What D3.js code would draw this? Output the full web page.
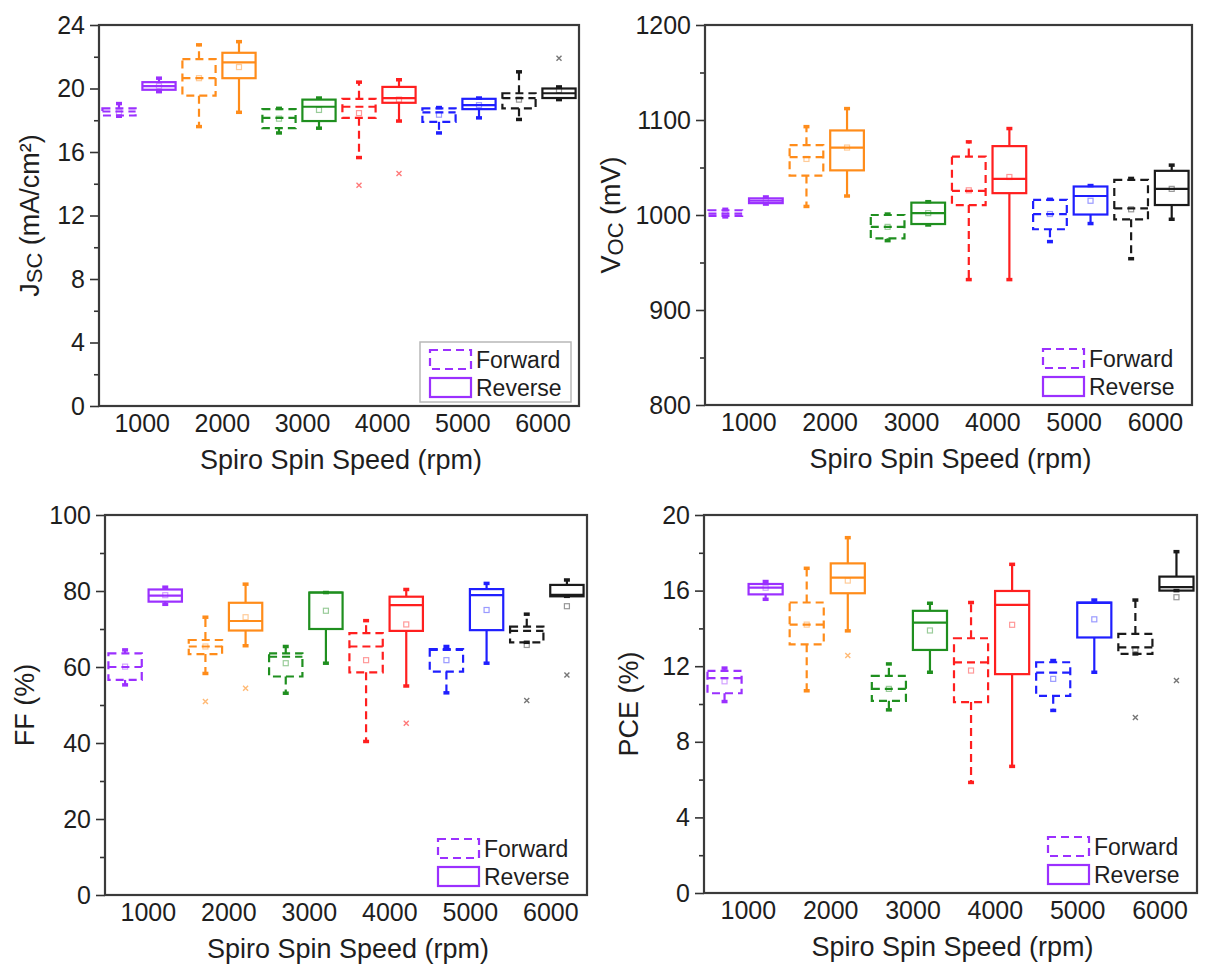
<!DOCTYPE html>
<html>
<head>
<meta charset="utf-8">
<script src="https://cdn.jsdelivr.net/npm/d3@7"></script>
<style>
  html, body { margin: 0; padding: 0; background: #fff; }
  svg { display: block; }
  text { font-family: Arial, "Liberation Sans", sans-serif; fill: #1e1e1e; }
</style>
</head>
<body>
<svg id="chart" width="1206" height="964"></svg>
<script>
// Spin-speed categories and scan directions
const categories = ["1000", "2000", "3000", "4000", "5000", "6000"];
const directions = ["Forward", "Reverse"];
const colors = ["#9b30ff", "#ff8c1a", "#1f8f1f", "#ff1f1f", "#1f1fff", "#1a1a1a"];

// Each row: [min, Q1, median, Q3, max, mean]
const jscForward = [
  [18.25, 18.30, 18.55, 18.75, 19.05, 18.50],
  [17.60, 19.55, 20.65, 21.85, 22.75, 20.65],
  [17.20, 17.50, 18.15, 18.70, 18.75, 18.10],
  [15.65, 18.15, 18.85, 19.35, 20.40, 18.45],
  [17.20, 17.90, 18.50, 18.75, 18.80, 18.35],
  [18.05, 18.75, 19.40, 19.70, 21.05, 19.30]
];
const jscReverse = [
  [19.80, 19.92, 20.15, 20.40, 20.65, 20.15],
  [18.50, 20.65, 21.65, 22.25, 22.95, 21.35],
  [17.50, 17.95, 18.85, 19.30, 19.40, 18.65],
  [17.95, 19.10, 19.40, 20.10, 20.55, 19.30],
  [18.15, 18.70, 18.95, 19.35, 19.40, 18.95],
  [19.30, 19.40, 19.70, 20.00, 20.10, 19.90]
];
const jscForwardOutliers = [[3, 13.9]];
const jscReverseOutliers = [[3, 14.65], [5, 21.9]];

const vocForward = [
  [998, 999, 1001.5, 1005, 1006, 1001],
  [1009, 1041.5, 1061, 1073.5, 1093, 1059],
  [973, 975.5, 987.5, 1000, 1001, 987.5],
  [932, 1010.5, 1025.5, 1061.5, 1077, 1026],
  [972, 985, 1001, 1016, 1016.5, 1001],
  [954, 995.5, 1007, 1037, 1038.5, 1006]
];
const vocReverse = [
  [1011.5, 1012.5, 1015, 1017.5, 1019, 1015],
  [1020, 1047, 1071, 1089, 1112, 1071],
  [989.5, 990.5, 1002, 1013, 1014, 1002],
  [932, 1023, 1038, 1072.5, 1091, 1040],
  [991, 1000.5, 1020, 1030, 1031, 1015],
  [995.5, 1010.5, 1027.5, 1046.5, 1052.5, 1027.5]
];
const vocForwardOutliers = [];
const vocReverseOutliers = [];

const ffForward = [
  [55.3, 56.6, 60.0, 63.6, 64.5, 60.1],
  [58.3, 63.4, 65.4, 67.1, 73.1, 65.4],
  [53.1, 57.5, 62.7, 63.6, 65.4, 61.0],
  [40.4, 58.6, 65.4, 68.9, 72.2, 61.8],
  [53.2, 58.8, 64.5, 64.7, 65.4, 61.8],
  [66.5, 66.5, 69.5, 70.6, 73.9, 65.8]
];
const ffReverse = [
  [76.5, 77.2, 78.8, 80.4, 81.0, 78.9],
  [65.6, 69.6, 72.1, 76.9, 81.8, 73.1],
  [61.0, 70.0, 79.6, 79.6, 79.6, 74.8],
  [55.0, 69.5, 76.3, 78.5, 80.4, 71.2],
  [61.0, 69.7, 78.9, 80.5, 82.0, 75.0],
  [78.6, 78.6, 79.0, 81.6, 82.9, 76.0]
];
const ffForwardOutliers = [[1, 50.9], [5, 51.2]];
const ffReverseOutliers = [[1, 54.4], [3, 45.2], [5, 57.9]];

const pceForward = [
  [10.13, 10.57, 11.37, 11.75, 11.90, 11.20],
  [10.70, 13.16, 14.20, 15.37, 17.18, 14.20],
  [9.69, 10.17, 10.80, 11.49, 12.12, 10.80],
  [5.85, 10.10, 12.20, 13.48, 15.37, 11.77],
  [9.66, 10.43, 11.66, 12.21, 12.30, 11.33],
  [12.65, 12.65, 13.00, 13.71, 15.50, 12.90]
];
const pceReverse = [
  [15.54, 15.80, 16.16, 16.35, 16.48, 16.15],
  [13.87, 15.86, 16.69, 17.44, 18.80, 16.53],
  [11.68, 12.86, 14.31, 14.93, 15.33, 13.89],
  [6.70, 11.58, 15.24, 15.98, 17.39, 14.19],
  [11.68, 13.52, 15.35, 15.37, 15.50, 14.48],
  [16.00, 16.00, 16.18, 16.74, 18.06, 15.65]
];
const pceForwardOutliers = [[5, 9.29]];
const pceReverseOutliers = [[1, 12.56], [5, 11.24]];

// Y-axis tick values
const jscTicks = [0, 4, 8, 12, 16, 20, 24];
const vocTicks = [800, 900, 1000, 1100, 1200];
const ffTicks = [0, 20, 40, 60, 80, 100];
const pceTicks = [0, 4, 8, 12, 16, 20];

const xTitle = "Spiro Spin Speed (rpm)";

const svg = d3.select("#chart");

function drawPanel(p) {
  const g = svg.append("g");
  const W = p.right - p.left;

  const x = d3.scaleBand().domain(categories).range([p.left, p.right]);
  const xi = d3.scaleBand().domain(directions).range([0, x.bandwidth()]);
  const y = d3.scaleLinear().domain(p.domain).range([p.bottom, p.top]);
  const boxW = xi.bandwidth() * 0.83;
  const cx = (ci, dir) => x(categories[ci]) + xi(dir) + xi.bandwidth() / 2;

  // minor and major ticks on the left axis
  const step = p.ticks[1] - p.ticks[0];
  const minorTicks = d3.range(p.domain[0] + step / 2, p.domain[1], step);
  g.append("g")
    .attr("transform", `translate(${p.left},0)`)
    .call(d3.axisLeft(y).tickValues(minorTicks).tickSize(5).tickFormat(""))
    .call(a => a.select(".domain").remove())
    .call(a => a.selectAll("line").attr("stroke", "#333").attr("stroke-width", 1.6));
  g.append("g")
    .attr("transform", `translate(${p.left},0)`)
    .call(d3.axisLeft(y).tickValues(p.ticks).tickSize(9).tickPadding(5).tickFormat(d3.format("d")))
    .call(a => a.select(".domain").remove())
    .call(a => a.selectAll("line").attr("stroke", "#333").attr("stroke-width", 1.6))
    .call(a => a.selectAll("text").attr("font-size", 25).attr("fill", "#1e1e1e")
      .attr("font-family", "Arial, 'Liberation Sans', sans-serif"));

  // category labels under the frame
  const xl = d3.scalePoint().domain(categories).range([p.left + 0.09 * W, p.left + 0.925 * W]);
  g.append("g").selectAll("text").data(categories).join("text")
    .attr("x", d => xl(d)).attr("y", p.bottom + 17)
    .attr("text-anchor", "middle").attr("dominant-baseline", "central")
    .attr("font-size", 25).text(d => d);

  // x title
  g.append("text")
    .attr("x", p.left + W / 2 + 2).attr("y", p.bottom + 54)
    .attr("text-anchor", "middle").attr("dominant-baseline", "central")
    .attr("font-size", 27).text(xTitle);

  // y title
  const yt = g.append("text")
    .attr("transform", `translate(${p.left - p.titleOffset},${(p.top + p.bottom) / 2}) rotate(-90)`)
    .attr("text-anchor", "middle").attr("dominant-baseline", "central")
    .attr("font-size", 27);
  p.yTitle.forEach(part => {
    const t = yt.append("tspan").text(part.t);
    if (part.sub) t.attr("font-size", 22).attr("baseline-shift", "-22%");
  });

  // boxes
  const series = [
    { dir: "Forward", rows: p.fwd, out: p.fwdOut, dash: "8,5" },
    { dir: "Reverse", rows: p.rev, out: p.revOut, dash: null }
  ];
  series.forEach(s => {
    s.rows.forEach((r, ci) => {
      const [mn, q1, med, q3, mx, mean] = r;
      const c = cx(ci, s.dir);
      const col = colors[ci];
      const bg = g.append("g").attr("stroke", col).attr("fill", "none")
        .attr("stroke-width", 2.2);
      if (s.dash) bg.attr("stroke-dasharray", s.dash);
      // whiskers
      bg.append("line").attr("x1", c).attr("x2", c).attr("y1", y(q3)).attr("y2", y(mx));
      bg.append("line").attr("x1", c).attr("x2", c).attr("y1", y(q1)).attr("y2", y(mn));
      // box
      bg.append("rect").attr("x", c - boxW / 2).attr("width", boxW)
        .attr("y", y(q3)).attr("height", Math.max(0.5, y(q1) - y(q3)));
      // median
      bg.append("line").attr("x1", c - boxW / 2).attr("x2", c + boxW / 2)
        .attr("y1", y(med)).attr("y2", y(med));
      // whisker end markers
      [mn, mx].forEach(v => {
        g.append("line").attr("x1", c - 3).attr("x2", c + 3)
          .attr("y1", y(v)).attr("y2", y(v))
          .attr("stroke", col).attr("stroke-width", 3.5);
      });
      // mean
      g.append("rect").attr("x", c - 2.5).attr("y", y(mean) - 2.5)
        .attr("width", 5).attr("height", 5)
        .attr("fill", "none").attr("stroke", col).attr("stroke-opacity", 0.45)
        .attr("stroke-width", 1.2);
    });
    // outliers
    s.out.forEach(([ci, v]) => {
      const c = cx(ci, s.dir), yy = y(v);
      g.append("path")
        .attr("d", `M${c - 2.5},${yy - 2.5}L${c + 2.5},${yy + 2.5}M${c - 2.5},${yy + 2.5}L${c + 2.5},${yy - 2.5}`)
        .attr("stroke", colors[ci]).attr("stroke-opacity", 0.6).attr("stroke-width", 1.4);
    });
  });

  // frame
  g.append("rect")
    .attr("x", p.left).attr("y", p.top)
    .attr("width", W).attr("height", p.bottom - p.top)
    .attr("fill", "none").attr("stroke", "#3a3a3a").attr("stroke-width", 2.2);

  // legend
  const lx = p.right - 149, ly = p.bottom - 56;
  if (p.legendBorder) {
    g.append("rect").attr("x", lx - 10).attr("y", ly - 8)
      .attr("width", 151).attr("height", 60)
      .attr("fill", "none").attr("stroke", "#b8b8b8").attr("stroke-width", 1.5);
  }
  directions.forEach((d, i) => {
    const ry = ly + i * 28;
    const r = g.append("rect").attr("x", lx).attr("y", ry)
      .attr("width", 41).attr("height", 19)
      .attr("fill", "none").attr("stroke", colors[0]).attr("stroke-width", 2.2);
    if (i === 0) r.attr("stroke-dasharray", "8,5");
    g.append("text").attr("x", lx + 46).attr("y", ry + 10)
      .attr("dominant-baseline", "central").attr("font-size", 23).text(d);
  });
}

drawPanel({
  left: 99, right: 579, top: 25, bottom: 406,
  domain: [0, 24], ticks: jscTicks, titleOffset: 69,
  yTitle: [{ t: "J" }, { t: "SC", sub: true }, { t: " (mA/cm²)" }],
  fwd: jscForward, rev: jscReverse, fwdOut: jscForwardOutliers, revOut: jscReverseOutliers,
  legendBorder: true
});
drawPanel({
  left: 705, right: 1192, top: 25, bottom: 405,
  domain: [800, 1200], ticks: vocTicks, titleOffset: 94,
  yTitle: [{ t: "V" }, { t: "OC", sub: true }, { t: " (mV)" }],
  fwd: vocForward, rev: vocReverse, fwdOut: vocForwardOutliers, revOut: vocReverseOutliers
});
drawPanel({
  left: 105, right: 587, top: 515, bottom: 895,
  domain: [0, 100], ticks: ffTicks, titleOffset: 80,
  yTitle: [{ t: "FF (%)" }],
  fwd: ffForward, rev: ffReverse, fwdOut: ffForwardOutliers, revOut: ffReverseOutliers
});
drawPanel({
  left: 704, right: 1197, top: 515, bottom: 893,
  domain: [0, 20], ticks: pceTicks, titleOffset: 75,
  yTitle: [{ t: "PCE (%)" }],
  fwd: pceForward, rev: pceReverse, fwdOut: pceForwardOutliers, revOut: pceReverseOutliers
});
</script>
</body>
</html>
